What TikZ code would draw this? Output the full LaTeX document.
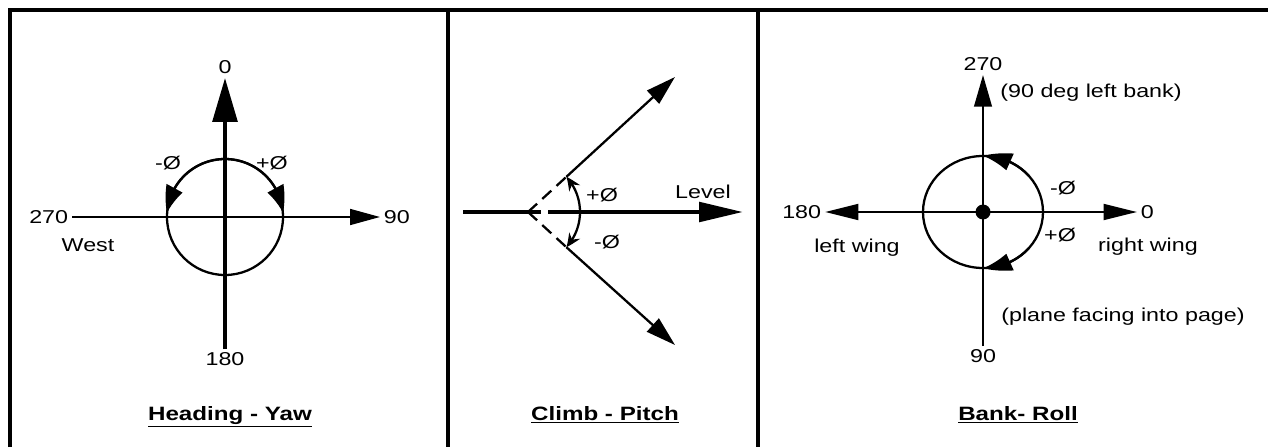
\documentclass[tikz,border=0pt]{standalone}
\usepackage{fontspec}
\setmainfont[FakeStretch=1.25]{Liberation Sans}
\usetikzlibrary{arrows.meta,bending,positioning}

\begin{document}
\begin{tikzpicture}[x=0.02cm, y=0.02cm,
    lbl/.style={inner sep=2pt, font=\fontsize{10.6}{12}\selectfont},
    ttl/.style={inner sep=2pt, font=\bfseries\fontsize{11}{13}\selectfont},
    frame/.style={line width=2.2pt},
    yawaxis/.style={line width=2.3pt, -{Triangle[length=25pt,width=14pt]}},
    thinaxis/.style={line width=1.2pt, -{Triangle[length=17pt,width=9pt]}},
    ring/.style={line width=1.3pt},
    ringtip/.style={-{Triangle[length=15pt,width=10pt,bend]}},
    levelaxis/.style={line width=2.5pt},
    leveltip/.style={-{Triangle[length=25pt,width=11pt]}},
    pitchline/.style={line width=1.3pt, -{Triangle[length=17pt,width=10pt]}},
    dashseg/.style={line width=1.3pt, dash pattern=on 7pt off 4pt},
    pitcharc/.style={line width=1.3pt, {Stealth[length=8pt,width=7pt,bend]}-{Stealth[length=8pt,width=7pt,bend]}},
    rollaxis/.style={line width=1.4pt},
    rolltip/.style={-{Triangle[length=19pt,width=9pt]}},
    rollvtip/.style={-{Triangle[length=18pt,width=10pt]}},
    roundtip/.style={-{Triangle[length=16pt,width=10pt,bend]}}
]
\useasboundingbox (0,0) rectangle (1268,447);

% Cadre
\draw[frame] (10,0) -- (10,437) -- (1268,437);
\draw[frame] (448,437) -- (448,0);
\draw[frame] (758,437) -- (758,0);

% Heading - Yaw
\coordinate (hc) at (225,230);
\node[lbl, anchor=south] (h0) at (225,369) {0};
\node[lbl, anchor=north] (h180) at (225,98) {180};
\node[lbl, anchor=east] (h270) at (72,230) {270};
\node[lbl, anchor=west] (h90) at (380,230) {90};
\node[lbl] (hwest) at (88,202) {West};
\node[lbl] (hminus) at (168,284) {-Ø};
\node[lbl] (hplus) at (272,284) {+Ø};
\node[ttl, anchor=base] (httl) at (230,27) {\underline{Heading - Yaw}};

\draw[yawaxis] (h180) -- (h0);
\draw[thinaxis] (h270) -- (h90);
\draw[ring] (hc) circle (58);
\draw[ring, ringtip] (hc) ++(90:58) arc (90:176:58);
\draw[ring, ringtip] (hc) ++(90:58) arc (90:4:58);

% Climb - Pitch
\coordinate (pv) at (528,235);
\coordinate (plstart) at (463,235);
\coordinate (pgapl) at (541,235);
\coordinate (pgapr) at (548,235);
\coordinate (pltip) at (743,235);
\coordinate (pup) at (675,370);
\coordinate (plow) at (675,102);
\path (pv) ++(42.5:52) coordinate (pupb);
\path (pv) ++(-42.5:52) coordinate (plowb);
\node[lbl] (pplus) at (602,252) {+Ø};
\node[lbl] (pminus) at (607,205) {-Ø};
\node[lbl] (plevel) at (703,255) {Level};
\node[ttl, anchor=base] (pttl) at (605,27) {\underline{Climb - Pitch}};

\draw[levelaxis] (plstart) -- (pgapl);
\draw[levelaxis, leveltip] (pgapr) -- (pltip);
\draw[dashseg] (pv) -- (pupb);
\draw[dashseg] (pv) -- (plowb);
\draw[pitchline] (pupb) -- (pup);
\draw[pitchline] (plowb) -- (plow);
\draw[pitcharc] (plowb) arc (-42.5:42.5:52);

% Bank - Roll
\coordinate (bc) at (983,235);
\node[lbl, anchor=south] (b270) at (983,372) {270};
\node[lbl, anchor=north] (b90) at (983,101) {90};
\node[lbl, anchor=east] (b180) at (825,235) {180};
\node[lbl, anchor=west] (b0) at (1137,235) {0};
\node[lbl] (bleft) at (1091,354) {(90 deg left bank)};
\node[lbl] (bminus) at (1063,259) {-Ø};
\node[lbl] (bplus) at (1060,212) {+Ø};
\node[lbl] (blwing) at (857,199) {left wing};
\node[lbl] (brwing) at (1148,200) {right wing};
\node[lbl] (bnote) at (1123,130) {(plane facing into page)};
\node[ttl, anchor=base] (bttl) at (1018,27) {\underline{Bank- Roll}};

\draw[rollaxis, rollvtip] (b90) -- (b270);
\draw[rollaxis, rolltip] (bc) -- (b180);
\draw[rollaxis, rolltip] (bc) -- (b0);
\fill (bc) circle (7.5);
\draw[ring] (bc) ellipse (60 and 56);
\draw[ring, roundtip] (bc) ++(40:60 and 56) arc (40:90:60 and 56);
\draw[ring, roundtip] (bc) ++(-40:60 and 56) arc (-40:-90:60 and 56);

\end{tikzpicture}
\end{document}
